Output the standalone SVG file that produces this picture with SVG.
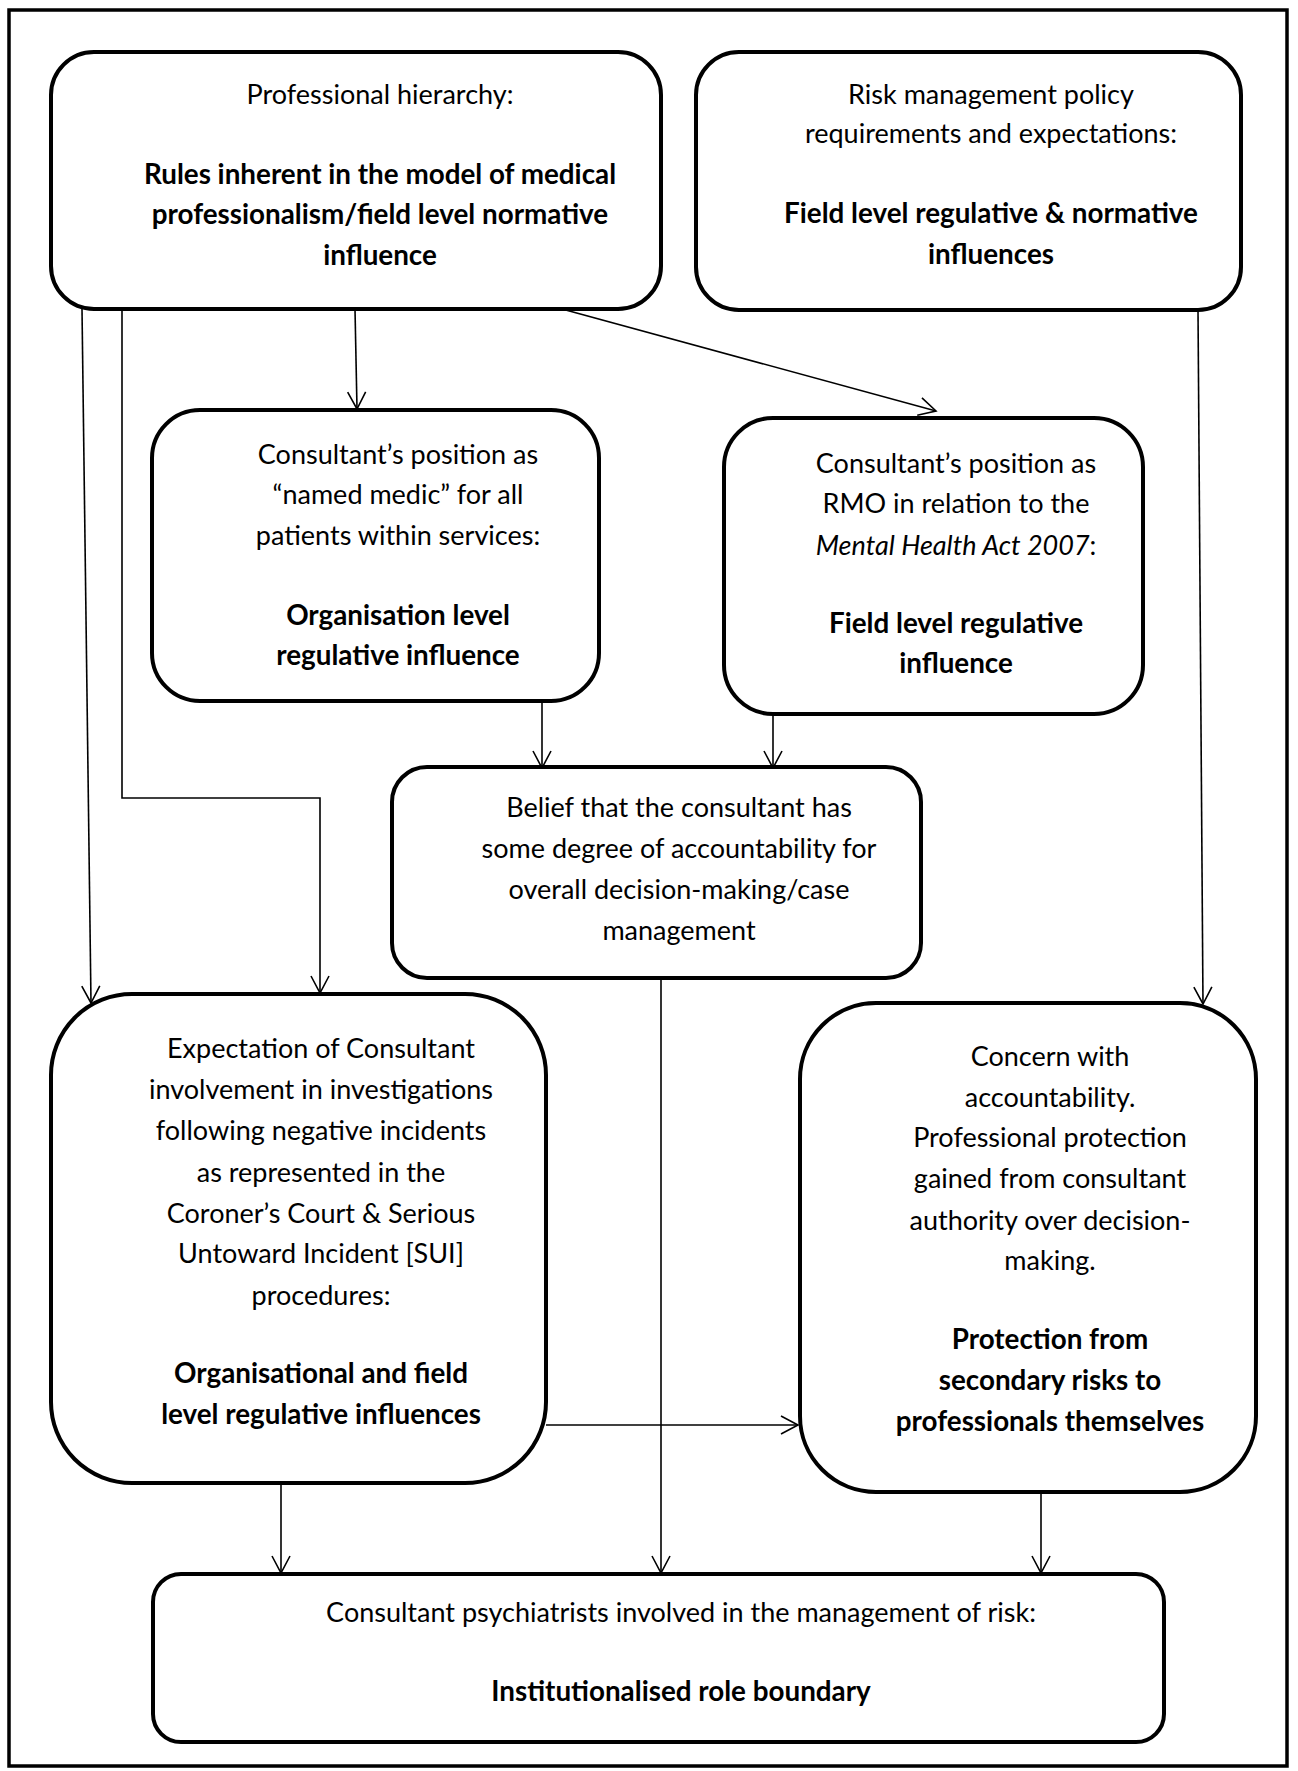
<svg xmlns="http://www.w3.org/2000/svg" width="1298" height="1771" viewBox="0 0 1298 1771">
<defs>
<style>
.box{fill:#fff;stroke:#000;stroke-width:4}
.t{font-family:Lato,"Liberation Sans",sans-serif;font-size:27px;fill:#000;text-anchor:middle}
.b{font-weight:bold;font-size:27.8px}
.i{font-style:italic}
.c{fill:none;stroke:#000;stroke-width:1.6}
</style>
<marker id="arr" markerUnits="userSpaceOnUse" markerWidth="24" markerHeight="24" viewBox="-20 -12 24 24" refX="0" refY="0" orient="auto">
<path d="M-17,-9 L0,0 L-17,9" fill="none" stroke="#000" stroke-width="1.6"/>
</marker>
</defs>
<rect x="0" y="0" width="1298" height="1771" fill="#fff"/>
<rect x="9" y="10" width="1278" height="1756" fill="none" stroke="#000" stroke-width="3.5"/>

<g id="connectors">
<path class="c" d="M82,309 L91,1003" marker-end="url(#arr)"/>
<path class="c" d="M122,309 L122,798 L320,798 L320,993" marker-end="url(#arr)"/>
<path class="c" d="M355,309 L357,409" marker-end="url(#arr)"/>
<path class="c" d="M562,309 L936,411" marker-end="url(#arr)"/>
<path class="c" d="M1198,310 L1203,1004" marker-end="url(#arr)"/>
<path class="c" d="M542,701 L542,768" marker-end="url(#arr)"/>
<path class="c" d="M773,714 L773,768" marker-end="url(#arr)"/>
<path class="c" d="M661,978 L661,1573" marker-end="url(#arr)"/>
<path class="c" d="M546,1425 L798,1425" marker-end="url(#arr)"/>
<path class="c" d="M281,1483 L281,1573" marker-end="url(#arr)"/>
<path class="c" d="M1041,1492 L1041,1573" marker-end="url(#arr)"/>
</g>

<g id="professional-hierarchy">
<rect class="box" x="51" y="52" width="610" height="257" rx="43"/>
<text class="t" x="380" y="104">Professional hierarchy:</text>
<text class="t b" x="380" y="184">Rules inherent in the model of medical</text>
<text class="t b" x="380" y="224">professionalism/field level normative</text>
<text class="t b" x="380" y="265">influence</text>
</g>

<g id="risk-management-policy">
<rect class="box" x="696" y="52" width="545" height="258" rx="43"/>
<text class="t" x="991" y="104">Risk management policy</text>
<text class="t" x="991" y="143">requirements and expectations:</text>
<text class="t b" x="991" y="223">Field level regulative &amp; normative</text>
<text class="t b" x="991" y="264">influences</text>
</g>

<g id="named-medic">
<rect class="box" x="152" y="410" width="447" height="291" rx="48"/>
<text class="t" x="398" y="464">Consultant’s position as</text>
<text class="t" x="398" y="504">“named medic” for all</text>
<text class="t" x="398" y="545">patients within services:</text>
<text class="t b" x="398" y="625">Organisation level</text>
<text class="t b" x="398" y="665">regulative influence</text>
</g>

<g id="rmo">
<rect class="box" x="724" y="418" width="419" height="296" rx="49"/>
<text class="t" x="956" y="473">Consultant’s position as</text>
<text class="t" x="956" y="513">RMO in relation to the</text>
<text class="t" x="956" y="555"><tspan class="i">Mental Health Act 2007</tspan>:</text>
<text class="t b" x="956" y="633">Field level regulative</text>
<text class="t b" x="956" y="673">influence</text>
</g>

<g id="belief">
<rect class="box" x="392" y="767" width="529" height="211" rx="35"/>
<text class="t" x="679" y="817">Belief that the consultant has</text>
<text class="t" x="679" y="858">some degree of accountability for</text>
<text class="t" x="679" y="899">overall decision-making/case</text>
<text class="t" x="679" y="940">management</text>
</g>

<g id="expectation">
<rect class="box" x="51" y="994" width="495" height="489" rx="81"/>
<text class="t" x="321" y="1058">Expectation of Consultant</text>
<text class="t" x="321" y="1099">involvement in investigations</text>
<text class="t" x="321" y="1140">following negative incidents</text>
<text class="t" x="321" y="1182">as represented in the</text>
<text class="t" x="321" y="1223">Coroner’s Court &amp; Serious</text>
<text class="t" x="321" y="1263">Untoward Incident [SUI]</text>
<text class="t" x="321" y="1305">procedures:</text>
<text class="t b" x="321" y="1383">Organisational and field</text>
<text class="t b" x="321" y="1424">level regulative influences</text>
</g>

<g id="concern">
<rect class="box" x="800" y="1003" width="456" height="489" rx="76"/>
<text class="t" x="1050" y="1066">Concern with</text>
<text class="t" x="1050" y="1107">accountability.</text>
<text class="t" x="1050" y="1147">Professional protection</text>
<text class="t" x="1050" y="1188">gained from consultant</text>
<text class="t" x="1050" y="1230">authority over decision-</text>
<text class="t" x="1050" y="1270">making.</text>
<text class="t b" x="1050" y="1349">Protection from</text>
<text class="t b" x="1050" y="1390">secondary risks to</text>
<text class="t b" x="1050" y="1431">professionals themselves</text>
</g>

<g id="role-boundary">
<rect class="box" x="153" y="1574" width="1011" height="168" rx="28"/>
<text class="t" x="681" y="1622">Consultant psychiatrists involved in the management of risk:</text>
<text class="t b" x="681" y="1701">Institutionalised role boundary</text>
</g>
</svg>
